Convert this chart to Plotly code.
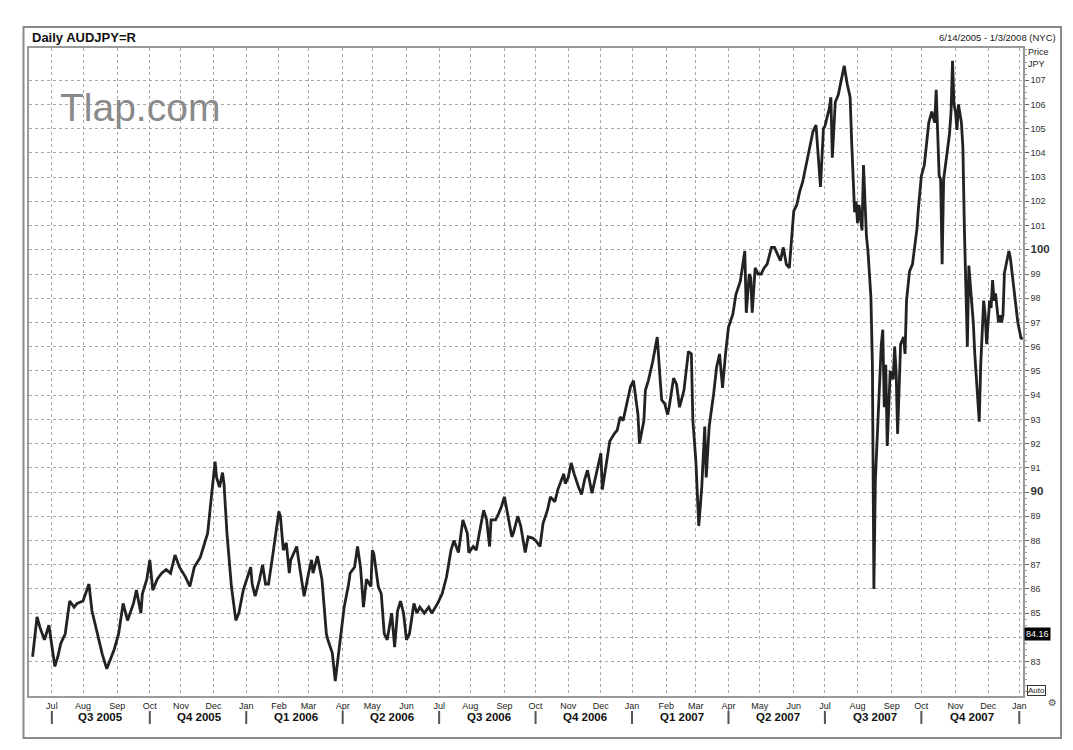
import plotly.graph_objects as go
import pandas as pd

# ---------------- data ----------------
chart_title = "Daily AUDJPY=R"
date_span = "6/14/2005 - 1/3/2008 (NYC)"
last_value = 84.16
watermark = "Tlap.com"

dates_2005 = ["2005-06-14", "2005-06-17", "2005-06-21", "2005-06-24", "2005-06-29", "2005-07-05",
              "2005-07-07", "2005-07-11", "2005-07-14", "2005-07-19", "2005-07-22", "2005-07-26",
              "2005-08-01", "2005-08-05", "2005-08-09", "2005-08-12", "2005-08-18", "2005-08-23",
              "2005-08-26", "2005-08-30", "2005-09-02", "2005-09-07", "2005-09-12", "2005-09-16",
              "2005-09-20", "2005-09-23", "2005-09-26", "2005-09-29", "2005-10-03", "2005-10-05",
              "2005-10-10", "2005-10-13", "2005-10-18", "2005-10-21", "2005-10-26", "2005-10-31",
              "2005-11-04", "2005-11-09", "2005-11-14", "2005-11-18", "2005-11-22", "2005-11-25",
              "2005-11-30", "2005-12-02", "2005-12-05", "2005-12-07", "2005-12-09", "2005-12-12",
              "2005-12-14", "2005-12-16", "2005-12-19", "2005-12-22", "2005-12-26", "2005-12-29"]
close_2005 = [83.2, 84.85, 84.4, 83.9, 84.5, 82.8,
              83.2, 83.75, 84.15, 85.5, 85.25, 85.4,
              85.5, 86.2, 85.1, 84.3, 83.3, 82.7,
              83.2, 83.5, 84.15, 85.4, 84.7, 85.4,
              85.95, 85.0, 85.8, 86.4, 87.2, 85.95,
              86.4, 86.65, 86.8, 86.65, 87.4, 86.9,
              86.5, 86.1, 86.9, 87.3, 87.7, 88.3,
              90.1, 91.25, 90.6, 90.2, 90.8, 90.35,
              88.3, 86.9, 86.1, 84.7, 85.0, 85.95]

dates_2006 = ["2006-01-03", "2006-01-05", "2006-01-06", "2006-01-10", "2006-01-13", "2006-01-17",
              "2006-01-19", "2006-01-23", "2006-01-26", "2006-01-30", "2006-02-01", "2006-02-02",
              "2006-02-06", "2006-02-08", "2006-02-10", "2006-02-13", "2006-02-17", "2006-02-21",
              "2006-02-24", "2006-03-01", "2006-03-03", "2006-03-06", "2006-03-09", "2006-03-14",
              "2006-03-17", "2006-03-20", "2006-03-23", "2006-03-27", "2006-03-29", "2006-03-31",
              "2006-04-04", "2006-04-07", "2006-04-10", "2006-04-13", "2006-04-17", "2006-04-19",
              "2006-04-21", "2006-04-25", "2006-04-28", "2006-05-01", "2006-05-02", "2006-05-05",
              "2006-05-09", "2006-05-11", "2006-05-15", "2006-05-18", "2006-05-22", "2006-05-24",
              "2006-05-26", "2006-05-30", "2006-06-01", "2006-06-05", "2006-06-08", "2006-06-12",
              "2006-06-14", "2006-06-19", "2006-06-22", "2006-06-26", "2006-06-30", "2006-07-05",
              "2006-07-10", "2006-07-13", "2006-07-17", "2006-07-20", "2006-07-25", "2006-07-28",
              "2006-07-31", "2006-08-03", "2006-08-07", "2006-08-10", "2006-08-14", "2006-08-16",
              "2006-08-18", "2006-08-21", "2006-08-24", "2006-08-28", "2006-08-30", "2006-09-01",
              "2006-09-05", "2006-09-08", "2006-09-11", "2006-09-14", "2006-09-18", "2006-09-21",
              "2006-09-25", "2006-09-28", "2006-10-02", "2006-10-05", "2006-10-09", "2006-10-12",
              "2006-10-16", "2006-10-19", "2006-10-23", "2006-10-26", "2006-10-27", "2006-10-30",
              "2006-11-01", "2006-11-03", "2006-11-07", "2006-11-10", "2006-11-14", "2006-11-16",
              "2006-11-20", "2006-11-23", "2006-11-27", "2006-11-29", "2006-12-01", "2006-12-04",
              "2006-12-07", "2006-12-11", "2006-12-14", "2006-12-18", "2006-12-20", "2006-12-22",
              "2006-12-27", "2006-12-29"]
close_2006 = [86.5, 86.9, 86.2, 85.7, 86.4, 87.0,
              86.2, 86.2, 87.45, 88.3, 89.2, 89.0,
              87.6, 87.9, 86.65, 87.2, 87.75, 86.9,
              85.7, 86.65, 87.2, 86.65, 87.35, 86.4,
              84.15, 83.9, 83.35, 82.2, 83.2, 84.0,
              85.25, 86.2, 86.65, 86.9, 87.75, 86.9,
              85.25, 86.4, 86.1, 87.6, 87.45, 86.1,
              85.8, 84.15, 83.9, 85.0, 83.6, 85.1,
              85.5, 85.0, 83.9, 84.15, 85.4, 85.0,
              85.25, 85.0, 85.25, 85.0, 85.4, 85.8,
              86.5, 87.6, 88.0, 87.5, 88.85, 88.3,
              87.5, 87.75, 87.6, 88.6, 89.25, 88.85,
              87.75, 88.85, 88.85, 89.1, 89.4, 89.8,
              89.1, 88.15, 88.3, 89.0, 88.6, 87.5,
              88.15, 88.1, 88.0, 87.75, 88.7, 89.25,
              89.8, 89.6, 90.1, 90.6, 90.75, 90.35,
              90.6, 91.2, 90.75, 90.2, 89.9, 90.5,
              90.9, 89.95, 90.5, 91.05, 91.6, 90.1,
              91.3, 92.1, 92.4, 92.55, 93.1, 92.95,
              93.8, 94.35]

dates_2007 = ["2007-01-02", "2007-01-05", "2007-01-08", "2007-01-11", "2007-01-12", "2007-01-16",
              "2007-01-19", "2007-01-22", "2007-01-24", "2007-01-26", "2007-01-29", "2007-01-31",
              "2007-02-02", "2007-02-05", "2007-02-08", "2007-02-12", "2007-02-14", "2007-02-19",
              "2007-02-22", "2007-02-26", "2007-02-27", "2007-03-01", "2007-03-05", "2007-03-07",
              "2007-03-09", "2007-03-12", "2007-03-14", "2007-03-19", "2007-03-21", "2007-03-23",
              "2007-03-27", "2007-03-29", "2007-04-02", "2007-04-05", "2007-04-09", "2007-04-12",
              "2007-04-16", "2007-04-17", "2007-04-18", "2007-04-20", "2007-04-23", "2007-04-24",
              "2007-04-26", "2007-04-30", "2007-05-02", "2007-05-04", "2007-05-08", "2007-05-11",
              "2007-05-15", "2007-05-17", "2007-05-21", "2007-05-23", "2007-05-25", "2007-05-29",
              "2007-05-31", "2007-06-01", "2007-06-05", "2007-06-07", "2007-06-11", "2007-06-14",
              "2007-06-18", "2007-06-20", "2007-06-22", "2007-06-25", "2007-06-27", "2007-06-29",
              "2007-07-02", "2007-07-05", "2007-07-06", "2007-07-09", "2007-07-11", "2007-07-13",
              "2007-07-16", "2007-07-19", "2007-07-23", "2007-07-25", "2007-07-26", "2007-07-27",
              "2007-07-30", "2007-07-31", "2007-08-01", "2007-08-02", "2007-08-06", "2007-08-07",
              "2007-08-09", "2007-08-10", "2007-08-13", "2007-08-14", "2007-08-15", "2007-08-16",
              "2007-08-17", "2007-08-20", "2007-08-21", "2007-08-23", "2007-08-24", "2007-08-27",
              "2007-08-28", "2007-08-29", "2007-08-31", "2007-09-04", "2007-09-05", "2007-09-06",
              "2007-09-07", "2007-09-10", "2007-09-11", "2007-09-13", "2007-09-14", "2007-09-17",
              "2007-09-19", "2007-09-21", "2007-09-24", "2007-09-26", "2007-09-27", "2007-10-01",
              "2007-10-03", "2007-10-05", "2007-10-08", "2007-10-10", "2007-10-12", "2007-10-15",
              "2007-10-16", "2007-10-17", "2007-10-18", "2007-10-19", "2007-10-22", "2007-10-24",
              "2007-10-26", "2007-10-29", "2007-10-30", "2007-10-31", "2007-11-01", "2007-11-02",
              "2007-11-05", "2007-11-07", "2007-11-08", "2007-11-09", "2007-11-12", "2007-11-13",
              "2007-11-14", "2007-11-15", "2007-11-16", "2007-11-19", "2007-11-20", "2007-11-21",
              "2007-11-22", "2007-11-23", "2007-11-26", "2007-11-27", "2007-11-28", "2007-11-29",
              "2007-11-30", "2007-12-03", "2007-12-04", "2007-12-05", "2007-12-06", "2007-12-07",
              "2007-12-10", "2007-12-11", "2007-12-12", "2007-12-13", "2007-12-14", "2007-12-17",
              "2007-12-18", "2007-12-19", "2007-12-20", "2007-12-21", "2007-12-24", "2007-12-27",
              "2007-12-28", "2007-12-31"]
close_2007 = [94.6, 93.2, 92.0, 92.95, 94.2, 94.6,
              95.4, 95.8, 96.4, 94.6, 93.8, 93.65,
              93.2, 93.5, 94.7, 94.45, 93.5, 94.2,
              95.8, 95.7, 92.95, 91.3, 88.6, 90.2,
              92.7, 90.6, 92.7, 94.05, 95.15, 95.7,
              94.3, 95.7, 96.8, 97.35, 98.15, 98.7,
              99.7, 99.95, 97.4, 99.0, 98.85, 97.4,
              99.25, 99.0, 99.0, 99.25, 99.4, 100.1,
              100.1, 99.8, 99.55, 100.1, 99.4, 99.25,
              100.6, 101.6, 101.85, 102.4, 102.8, 103.65,
              104.3, 104.9, 105.15, 104.3, 102.6, 105.0,
              105.1, 105.85, 106.3, 103.8, 106.1, 106.4,
              106.7, 107.6, 106.85, 106.3, 104.5, 102.6,
              101.55, 102.0, 101.1, 101.85, 100.8, 103.5,
              100.55, 99.95, 98.9, 98.05, 95.25, 86.0,
              90.5, 92.0, 93.2, 96.1, 96.7, 93.5,
              95.25, 91.9, 95.0, 94.65, 96.0, 94.95,
              92.4, 94.4, 96.1, 96.4, 95.7, 97.9,
              99.1, 99.4, 99.95, 100.85, 101.7, 103.05,
              103.5, 104.5, 105.25, 105.7, 105.25, 106.6,
              104.8, 103.05, 102.9, 99.4, 102.9, 103.8,
              104.8, 105.7, 107.8, 106.0, 105.7, 104.95,
              106.0, 105.25, 104.2, 100.85, 97.9, 96.0,
              99.35, 98.6, 97.6, 97.0, 95.7, 94.65,
              94.1, 92.9, 95.25, 97.0, 97.9, 97.3,
              96.1, 97.0, 97.9, 97.6, 98.75, 97.9,
              98.2, 97.6, 97.0, 97.3, 97.0, 97.3,
              99.05, 99.35, 99.65, 99.95, 99.65, 98.2,
              97.6, 97.0]

dates_2008 = ["2008-01-02", "2008-01-03"]
close_2008 = [96.4, 96.3]

month_starts = ["2005-07-01", "2005-08-01", "2005-09-01", "2005-10-01", "2005-11-01", "2005-12-01",
                "2006-01-01", "2006-02-01", "2006-03-01", "2006-04-01", "2006-05-01", "2006-06-01",
                "2006-07-01", "2006-08-01", "2006-09-01", "2006-10-01", "2006-11-01", "2006-12-01",
                "2007-01-01", "2007-02-01", "2007-03-01", "2007-04-01", "2007-05-01", "2007-06-01",
                "2007-07-01", "2007-08-01", "2007-09-01", "2007-10-01", "2007-11-01", "2007-12-01",
                "2008-01-01"]
month_labels = ["Jul", "Aug", "Sep", "Oct", "Nov", "Dec",
                "Jan", "Feb", "Mar", "Apr", "May", "Jun",
                "Jul", "Aug", "Sep", "Oct", "Nov", "Dec",
                "Jan", "Feb", "Mar", "Apr", "May", "Jun",
                "Jul", "Aug", "Sep", "Oct", "Nov", "Dec",
                "Jan"]
quarter_starts = ["2005-07-01", "2005-10-01", "2006-01-01", "2006-04-01", "2006-07-01", "2006-10-01",
                  "2007-01-01", "2007-04-01", "2007-07-01", "2007-10-01", "2008-01-01"]
quarter_labels = ["Q3 2005", "Q4 2005", "Q1 2006", "Q2 2006", "Q3 2006",
                  "Q4 2006", "Q1 2007", "Q2 2007", "Q3 2007", "Q4 2007"]
price_ticks = [83, 84, 85, 86, 87, 88, 89, 90, 91, 92, 93, 94, 95, 96, 97, 98, 99,
               100, 101, 102, 103, 104, 105, 106, 107]
bold_ticks = [90, 100]
hidden_tick_labels = [84]   # covered by the last-value box in the reference

# ---------------- assemble ----------------
all_dates = dates_2005 + dates_2006 + dates_2007 + dates_2008
all_close = close_2005 + close_2006 + close_2007 + close_2008
assert len(all_dates) == len(all_close), (len(all_dates), len(all_close))

bday = pd.offsets.BDay()
def first_bday(s):
    return bday.rollforward(pd.Timestamp(s))

month_tick_pos = [first_bday(d) for d in month_starts]
quarter_pos = [first_bday(d) for d in quarter_starts]

W, H = 1073, 750
L, R, T, B = 29, 1023, 48, 696
def px(x):
    return (x - L) / (R - L)
def py(y):
    return (B - y) / (B - T)

FONT = "Liberation Sans, Arial, sans-serif"

fig = go.Figure()
fig.add_trace(go.Scatter(
    x=pd.to_datetime(all_dates), y=all_close, mode="lines",
    line=dict(color="#222222", width=2.8), hoverinfo="skip", showlegend=False))

ticktext = []
for v in price_ticks:
    if v in hidden_tick_labels:
        ticktext.append("")
    elif v in bold_ticks:
        ticktext.append("<b><span style='font-size:11.5px'>%d</span></b>" % v)
    else:
        ticktext.append(str(v))

annotations = [
    dict(text="<b>%s</b>" % chart_title, x=px(30), y=py(37), xref="paper", yref="paper",
         xanchor="left", yanchor="middle", showarrow=False, font=dict(size=13, color="#111", family=FONT)),
    dict(text=date_span, x=px(1058), y=py(38), xref="paper", yref="paper",
         xanchor="right", yanchor="middle", showarrow=False, font=dict(size=9.5, color="#222", family=FONT)),
    dict(text="Price", x=px(1026), y=py(52), xref="paper", yref="paper",
         xanchor="left", yanchor="middle", showarrow=False, font=dict(size=9, color="#222", family=FONT)),
    dict(text="JPY", x=px(1026), y=py(64), xref="paper", yref="paper",
         xanchor="left", yanchor="middle", showarrow=False, font=dict(size=9, color="#222", family=FONT)),
    dict(text=watermark, x=px(140), y=py(108), xref="paper", yref="paper",
         xanchor="center", yanchor="middle", showarrow=False,
         font=dict(size=39, color="#8a8a8a", family=FONT)),
    dict(text="%.2f" % last_value, x=px(1023.5), y=last_value, xref="paper", yref="y",
         xanchor="left", yanchor="middle", showarrow=False, bgcolor="#000",
         borderpad=1, font=dict(size=9, color="#fff", family=FONT)),
    dict(text="Auto", x=px(1027), y=py(690), xref="paper", yref="paper",
         xanchor="left", yanchor="middle", showarrow=False, bordercolor="#333",
         borderwidth=1, borderpad=0, bgcolor="#fff", font=dict(size=8, color="#222", family=FONT)),
    dict(text="⚙", x=px(1052), y=py(702), xref="paper", yref="paper",
         xanchor="center", yanchor="middle", showarrow=False,
         font=dict(size=10, color="#555", family="DejaVu Sans")),
]
shapes = [
    dict(type="rect", xref="paper", yref="paper", x0=px(23.5), x1=px(1061), y0=py(27), y1=py(738),
         line=dict(color="#8a8a8a", width=2), layer="below"),
]
for i, lab in enumerate(quarter_labels):
    a, b = quarter_pos[i], quarter_pos[i + 1]
    mid = a + (b - a) / 2
    annotations.append(dict(text="<b>%s</b>" % lab, x=mid, y=py(717), xref="x", yref="paper",
                            xanchor="center", yanchor="middle", showarrow=False,
                            font=dict(size=11.5, color="#111", family=FONT)))
for q in quarter_pos:
    shapes.append(dict(type="line", xref="x", yref="paper", x0=q, x1=q, y0=py(711), y1=py(724),
                       line=dict(color="#555", width=2)))

fig.update_layout(
    width=W, height=H, autosize=False,
    margin=dict(l=L, r=W - R, t=T, b=H - B, pad=0),
    paper_bgcolor="#fff", plot_bgcolor="#fff",
    font=dict(family=FONT, size=9, color="#222"),
    showlegend=False,
    annotations=annotations, shapes=shapes,
    xaxis=dict(
        type="date", range=["2005-06-09 14:00", "2008-01-03 12:00"],
        rangebreaks=[dict(bounds=["sat", "mon"])],
        tickmode="array", tickvals=month_tick_pos, ticktext=month_labels,
        ticks="", tickfont=dict(size=9, color="#222"),
        showgrid=True, gridcolor="#a8a8a8", griddash="dot", gridwidth=1,
        showline=True, linecolor="#9a9a9a", linewidth=1.5, mirror=True, zeroline=False,
    ),
    yaxis=dict(
        side="right", range=[81.58, 108.33],
        tickmode="array", tickvals=price_ticks, ticktext=ticktext,
        ticks="outside", ticklen=4, tickcolor="#666", tickwidth=1,
        tickfont=dict(size=9, color="#333"),
        minor=dict(ticks="outside", ticklen=2, tickcolor="#999", dtick=0.25, showgrid=False),
        showgrid=True, gridcolor="#a8a8a8", griddash="dot", gridwidth=1,
        showline=True, linecolor="#9a9a9a", linewidth=1.5, mirror=True, zeroline=False,
    ),
)

fig.write_html("out.html")
